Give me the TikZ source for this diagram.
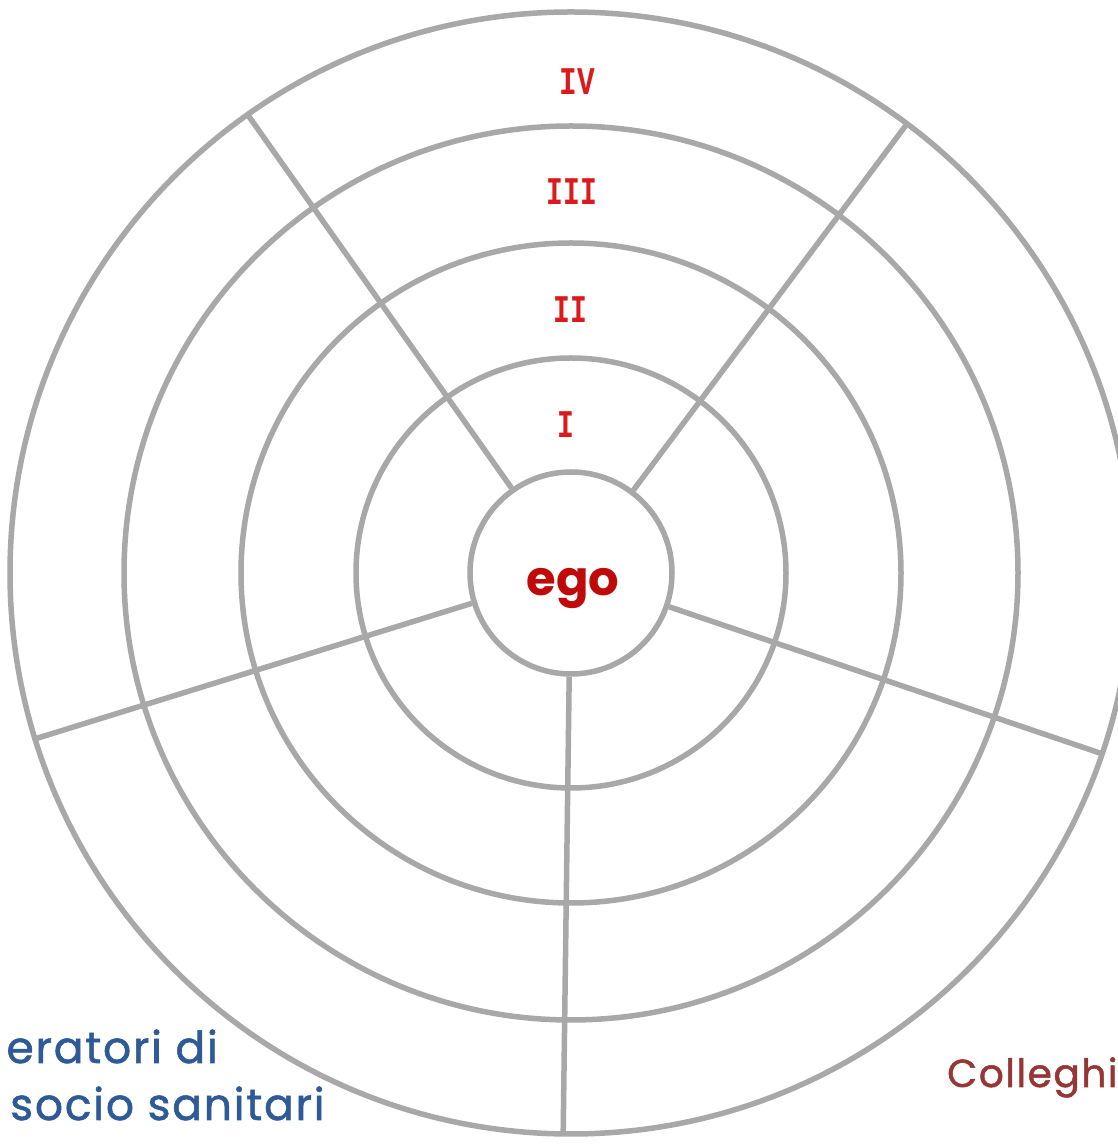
\documentclass[tikz,border=0pt]{standalone}
\usepackage{fontspec}
\newfontfamily\comicf{Poppins}
\newfontfamily\comicm[FakeBold=1.3,LetterSpace=4]{Poppins}
\newfontfamily\monof{Liberation Mono}
\usetikzlibrary{calc}
\definecolor{ringgray}{HTML}{A8A8A8}
\definecolor{numred}{HTML}{DC1A1E}
\definecolor{egored}{HTML}{C00A0A}
\definecolor{opblue}{HTML}{2E5A97}
\definecolor{colbrown}{HTML}{953735}
\begin{document}
\begin{tikzpicture}[x=1pt,y=1pt,
  ringline/.style={draw=ringgray,line width=5.5pt},
  numeral/.style={text=numred,inner sep=0pt,font=\monof\bfseries\fontsize{28}{28}\selectfont},
  grouplabel/.style={inner sep=0pt,font=\comicm\fontsize{44}{44}\selectfont}]
\useasboundingbox (0,0) rectangle (1118,1144);
\clip (0,0) rectangle (1118,1144);
\fill[white] (0,0) rectangle (1118,1144);
\coordinate (c) at (571,571);
% rings
\foreach \r in {215,330,447,561} \draw[ringline] (c) circle[radius=\r];
% ego
\node[circle,draw=ringgray,line width=5.5pt,minimum size=202pt,inner sep=0pt] (ego) at (c) {};
\node[text=egored,inner sep=0pt,font=\comicf\bfseries\fontsize{48}{48}\selectfont] (egotext) at (573,555) {ego};
% spokes
\foreach \a/\n in {53.2/1,125.2/2,197.2/3,269.2/4,341.2/5} {
  \coordinate (o\n) at ($(c)+(\a:561)$);
  \draw[ringline] (ego.\a) -- (o\n);
}
% numerals
\node[numeral] (nIV) at (577,1062) {\scalebox{1.05}[1.4]{IV}};
\node[numeral] (nIII) at (572,952) {\scalebox{1}[1.4]{III}};
\node[numeral] (nII) at (570,834) {\scalebox{1}[1.4]{II}};
\node[numeral] (nI) at (566,719) {\scalebox{1}[1.4]{I}};
% group labels
\node[grouplabel,text=opblue,anchor=base east] (op1) at (218,81) {eratori di};
\node[grouplabel,text=opblue,anchor=base west] (op2) at (10,24) {socio sanitari};
\node[grouplabel,text=colbrown,anchor=base west,font=\comicm\fontsize{39}{39}\selectfont] (col) at (947,57) {Colleghi};
\end{tikzpicture}
\end{document}
